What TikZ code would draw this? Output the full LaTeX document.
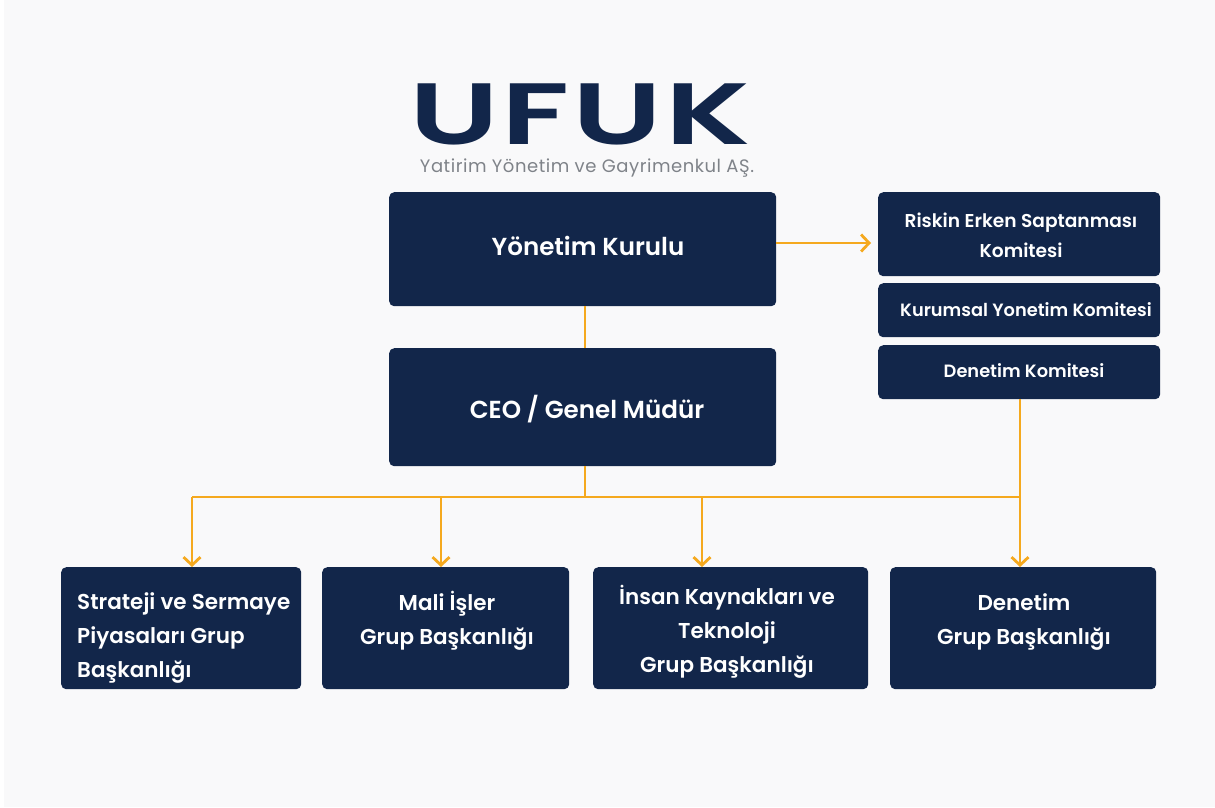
\documentclass[tikz,border=0pt]{standalone}
\usepackage{fontspec}
\setmainfont{Poppins SemiBold}
\newfontfamily\logofont[LetterSpace=2]{Poppins SemiBold}
\newfontfamily\tagfont[LetterSpace=3]{Poppins}
\usetikzlibrary{arrows.meta,positioning}
\definecolor{navy}{HTML}{12264A}
\definecolor{amber}{HTML}{F5A91E}
\definecolor{pagebg}{HTML}{F9F9FA}
\definecolor{subgrey}{HTML}{7F8389}
\tikzset{
  box/.style={fill=navy, rounded corners=5pt, inner sep=0pt, anchor=north west},
  boxtext/.style={text=white, align=center, inner sep=0pt, font=\fontsize{21.5}{34}\selectfont},
  smalltext/.style={text=white, align=center, inner sep=0pt, font=\fontsize{17.8}{30}\selectfont},
  bigtext/.style={text=white, align=center, inner sep=0pt, font=\fontsize{24.6}{30}\selectfont},
  link/.style={draw=amber, line width=2.8pt},
  arrowlink/.style={link, -{Straight Barb[length=8pt,width=17pt,line width=2.8pt]}}
}
\begin{document}
\begin{tikzpicture}[x=1pt,y=-1pt]
\useasboundingbox (0,0) rectangle (1215,807);
\fill[white] (0,0) rectangle (1215,807);
\fill[pagebg] (4,0) rectangle (1215,807);

\node[text=navy, inner sep=0pt, xscale=1.48, font=\logofont\fontsize{87}{87}\selectfont] (logo) at (580,114) {UFUK};
\node[text=subgrey, inner sep=0pt, font=\tagfont\fontsize{18}{20}\selectfont] (tagline) at (587,168) {Yatirim Yönetim ve Gayrimenkul AŞ.};

\node[box, minimum width=387pt, minimum height=114pt] (kurul) at (389,192) {};
\node[box, minimum width=387pt, minimum height=118pt] (ceo) at (389,348) {};
\node[box, minimum width=282pt, minimum height=84pt] (risk) at (878,192) {};
\node[box, minimum width=282pt, minimum height=54pt] (kurumsal) at (878,283) {};
\node[box, minimum width=282pt, minimum height=54pt] (komite) at (878,345) {};
\node[box, minimum width=240pt, minimum height=122pt] (strateji) at (61,567) {};
\node[box, minimum width=247pt, minimum height=122pt] (mali) at (322,567) {};
\node[box, minimum width=275pt, minimum height=122pt] (insan) at (593,567) {};
\node[box, minimum width=266pt, minimum height=122pt] (denetim) at (890,567) {};

\node[bigtext] (kurultxt) at (588,246) {Yönetim Kurulu};
\node[bigtext] (ceotxt) at (587,409) {CEO / Genel Müdür};
\node[smalltext, font=\fontsize{18.6}{30}\selectfont] (risktxt) at (1021,235) {Riskin Erken Saptanması\\Komitesi};
\node[smalltext] (kurumsaltxt) at (1026,310) {Kurumsal Yonetim Komitesi};
\node[smalltext] (komitetxt) at (1024,371) {Denetim Komitesi};
\node[boxtext, align=left, anchor=west] (stratejitxt) at (77,638) {Strateji ve Sermaye\\Piyasaları Grup\\Başkanlığı};
\node[boxtext] (malitxt) at (447,621) {Mali İşler\\Grup Başkanlığı};
\node[boxtext] (insantxt) at (727,632) {İnsan Kaynakları ve\\Teknoloji\\Grup Başkanlığı};
\node[boxtext] (denetimtxt) at (1024,622) {Denetim\\Grup Başkanlığı};

\coordinate (bus) at (585,497);
\coordinate (busa) at (192,497);
\coordinate (busb) at (441,497);
\coordinate (busc) at (702,497);
\coordinate (busd) at (1020,497);
\coordinate (riskin) at (871,243);

\draw[link] (kurul.south -| bus)--(ceo.north -| bus);
\draw[link] (ceo.south -| bus)--(bus);
\draw[link] (busa)--(busd);
\draw[link] (komite.south -| busd)--(busd);
\draw[arrowlink] (kurul.east |- riskin)--(riskin);
\draw[arrowlink] (busa)--(busa |- strateji.north);
\draw[arrowlink] (busb)--(busb |- mali.north);
\draw[arrowlink] (busc)--(busc |- insan.north);
\draw[arrowlink] (busd)--(busd |- denetim.north);
\end{tikzpicture}
\end{document}
